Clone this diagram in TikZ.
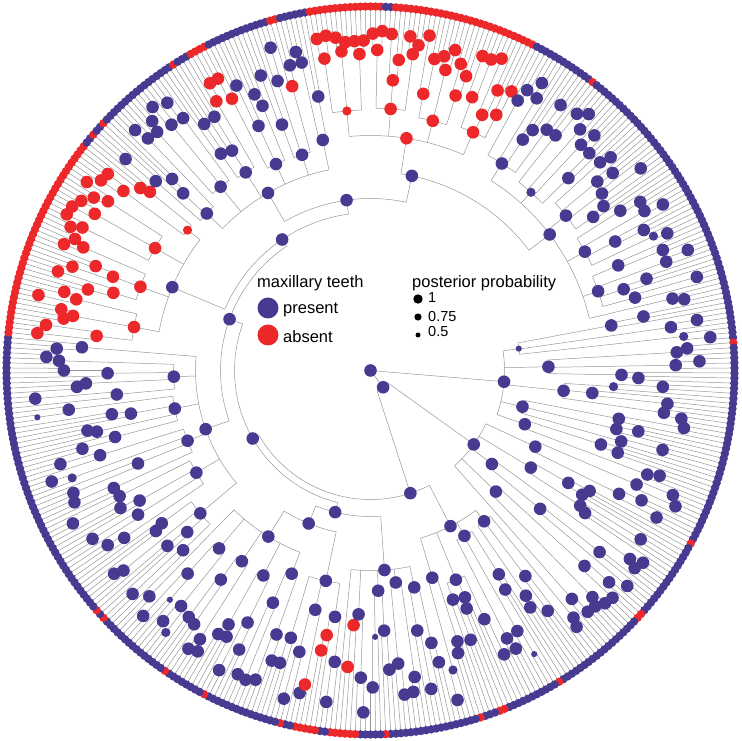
\documentclass[tikz,border=0pt]{standalone}
\usepackage{fontspec}
\setmainfont{Liberation Sans}
\definecolor{teethblue}{RGB}{70,58,145}
\definecolor{teethred}{RGB}{237,40,43}
\definecolor{branchgrey}{RGB}{150,150,150}
\tikzset{
  branch/.style={draw=branchgrey, line width=0.5pt},
  present/.style={fill=teethblue},
  absent/.style={fill=teethred},
  keytext/.style={anchor=base west, inner sep=0pt, font=\fontsize{16.5}{19}\selectfont},
  probtext/.style={anchor=base west, inner sep=0pt, font=\fontsize{14.5}{17}\selectfont},
}
\newif\ifdotpass
% angle of tip j on the ring
\pgfmathdeclarefunction{tipang}{1}{\pgfmathparse{11.6-0.8*#1}}
% 1 when tip j has no maxillary teeth
\pgfmathdeclarefunction{redtip}{1}{\pgfmathparse{int((#1==9)+(#1==50)+(#1>=67)*(#1<=68)+(#1==88)+(#1>=100)*(#1<=101)+(#1==105)+(#1==124)+(#1>=130)*(#1<=135)+(#1>=138)*(#1<=142)+(#1==145)+(#1==161)+(#1==170)+(#1==186)+(#1==188)+(#1>=247)*(#1<=287)+(#1==290)+(#1==293)+(#1==311)+(#1>=315)*(#1<=318)+(#1>=332)*(#1<=333)+(#1>=340)*(#1<=354)+(#1>=357)*(#1<=385)+(#1==399)>0)}}
\newcommand\tipR{364}
% radial branch: angle, inner radius, outer radius
\newcommand\radial[3]{\ifdotpass\else\draw[branch] (#1:#2) -- (#1:#3);\fi}
% arc branch: radius, from angle, to angle
\newcommand\arcat[3]{\ifdotpass\else\draw[branch] (#2:#1) arc[start angle=#2, end angle=#3, radius=#1];\fi}
% state at a node: angle, radius, 1 = absent
\newcommand\statedot[3]{%
  \pgfmathsetmacro\dotp{rnd}%
  \pgfmathsetmacro\dotr{\dotp<0.015 ? 3.1 : (\dotp<0.035 ? 4.6 : 6.3)}%
  \ifdotpass
    \ifnum#3=1 \fill[absent] (#1:#2) circle[radius=\dotr];%
    \else\fill[present] (#1:#2) circle[radius=\dotr];\fi
  \fi}
% two sister tips: first tip, radius, colour flag
\newcommand\cherry[3]{%
  \pgfmathsetmacro\cha{tipang(#1)}\pgfmathsetmacro\chb{tipang(#1+1)}%
  \pgfmathsetmacro\chm{tipang(#1+0.5)}%
  \pgfmathtruncatemacro\chc{#3>0 ? 1 : redtip(#1)*redtip(#1+1)}%
  \arcat{#2}{\cha}{\chb}\radial{\cha}{#2}{\tipR}\radial{\chb}{#2}{\tipR}%
  \statedot{\chm}{#2}{\chc}}
% one clade: first tip, last tip, parent radius, clade radius,
% lowest group radius, tips per group, groups per block,
% colour (0 by tips, 1 red inside, 2 all red)
\newcommand\clade[8]{%
  \pgfmathtruncatemacro\ngrp{ceil((#2-#1+1)/#6)}%
  \pgfmathtruncatemacro\nblk{ceil(\ngrp/#7)}%
  % small groups of tips
  \foreach \gi in {1,...,\ngrp}{%
    \pgfmathtruncatemacro\ga{#1+(\gi-1)*#6}%
    \pgfmathtruncatemacro\gb{min(\ga+#6-1,#2)}%
    \pgfmathtruncatemacro\gn{\gb-\ga+1}%
    \pgfmathsetmacro\rg{#5+rnd*(322-#5)}%
    \pgfmathsetmacro\rh{\rg+8+rnd*(342-\rg-8)}%
    \pgfmathsetmacro\rj{\rg+8+rnd*(342-\rg-8)}%
    \pgfmathsetmacro\flip{rnd}%
    \ifcase\gn\or
      \pgfmathsetmacro\gatt{\ga}%
      \pgfmathsetmacro\angA{tipang(\ga)}%
      \radial{\angA}{\rg}{\tipR}%
    \or
      \pgfmathsetmacro\gatt{\ga+0.5}%
      \cherry{\ga}{\rg}{#8}%
    \or
      \ifdim\flip pt<0.5pt
        \pgfmathsetmacro\gatt{\ga+0.75}%
        \pgfmathsetmacro\angA{tipang(\ga)}\pgfmathsetmacro\angB{tipang(\ga+1.5)}%
        \arcat{\rg}{\angA}{\angB}\radial{\angA}{\rg}{\tipR}\radial{\angB}{\rg}{\rh}%
        \cherry{\ga+1}{\rh}{#8}%
      \else
        \pgfmathsetmacro\gatt{\ga+1.25}%
        \pgfmathsetmacro\angA{tipang(\ga+0.5)}\pgfmathsetmacro\angB{tipang(\ga+2)}%
        \arcat{\rg}{\angA}{\angB}\radial{\angB}{\rg}{\tipR}\radial{\angA}{\rg}{\rh}%
        \cherry{\ga}{\rh}{#8}%
      \fi
    \or
      \pgfmathsetmacro\gatt{\ga+1.5}%
      \pgfmathsetmacro\angA{tipang(\ga+0.5)}\pgfmathsetmacro\angB{tipang(\ga+2.5)}%
      \arcat{\rg}{\angA}{\angB}\radial{\angA}{\rg}{\rh}\radial{\angB}{\rg}{\rj}%
      \cherry{\ga}{\rh}{#8}\cherry{\ga+2}{\rj}{#8}%
    \fi
    \ifnum\gn>2
      \pgfmathsetmacro\angG{tipang(\gatt)}%
      \pgfmathtruncatemacro\gcol{#8>0 ? 1 : (redtip(\ga)+redtip(\ga+1)+redtip(\gb)>1)}%
      \statedot{\angG}{\rg}{\gcol}%
    \fi
    \expandafter\xdef\csname gatt\gi\endcsname{\gatt}%
    \expandafter\xdef\csname grad\gi\endcsname{\rg}%
  }%
  % blocks of groups
  \foreach \bi in {1,...,\nblk}{%
    \pgfmathtruncatemacro\fa{(\bi-1)*#7+1}%
    \pgfmathtruncatemacro\fb{min(\fa+#7-1,\ngrp)}%
    \edef\baa{\csname gatt\fa\endcsname}%
    \edef\bab{\csname gatt\fb\endcsname}%
    \ifnum\fa=\fb
      \pgfmathsetmacro\angA{tipang(\baa)}%
      \edef\rgq{\csname grad\fa\endcsname}%
      \radial{\angA}{#4}{\rgq}%
      \expandafter\xdef\csname batt\bi\endcsname{\baa}%
    \else
      \pgfmathsetmacro\rs{#4+12+rnd*(#5-#4-22)}%
      \pgfmathsetmacro\angA{tipang(\baa)}\pgfmathsetmacro\angB{tipang(\bab)}%
      \arcat{\rs}{\angA}{\angB}%
      \foreach \mm in {\fa,...,\fb}{%
        \edef\amm{\csname gatt\mm\endcsname}\edef\rgq{\csname grad\mm\endcsname}%
        \pgfmathsetmacro\angM{tipang(\amm)}%
        \radial{\angM}{\rs}{\rgq}%
      }%
      \pgfmathsetmacro\bmid{(\baa+\bab)/2}%
      \pgfmathsetmacro\angM{tipang(\bmid)}%
      \radial{\angM}{#4}{\rs}%
      \pgfmathtruncatemacro\bcol{#8>0 ? 1 : 0}%
      \statedot{\angM}{\rs}{\bcol}%
      \expandafter\xdef\csname batt\bi\endcsname{\bmid}%
    \fi
  }%
  % clade node
  \edef\baa{\csname batt1\endcsname}\edef\bab{\csname batt\nblk\endcsname}%
  \pgfmathsetmacro\angA{tipang(\baa)}\pgfmathsetmacro\angB{tipang(\bab)}%
  \arcat{#4}{\angA}{\angB}%
  \pgfmathsetmacro\angC{tipang((#1+#2)/2)}%
  \radial{\angC}{#3}{#4}%
  \pgfmathtruncatemacro\bcol{#8>1 ? 1 : 0}%
  \statedot{\angC}{#4}{\bcol}%
}
% all clades, clockwise from the right
\newcommand\alltree{%
  \pgfmathsetseed{2718}%
  \clade{0}{41}{0}{134}{215}{3}{3}{0}%
  \clade{42}{76}{21}{127}{200}{4}{2}{0}%
  \clade{77}{109}{129}{175}{240}{3}{3}{0}%
  \clade{110}{134}{146}{200}{255}{3}{2}{0}%
  \clade{135}{149}{165}{215}{265}{3}{2}{0}%
  \clade{150}{183}{165}{195}{250}{4}{2}{0}%
  \clade{184}{246}{150}{175}{240}{3}{4}{0}%
  \clade{247}{289}{158}{215}{260}{4}{3}{1}%
  \clade{290}{339}{172}{205}{255}{3}{3}{0}%
  \clade{340}{386}{199}{235}{275}{4}{3}{2}%
  \clade{387}{449}{199}{225}{265}{3}{4}{0}%
}

\begin{document}
\begin{tikzpicture}[x=1pt,y=1pt]
\useasboundingbox (-370.5,-370.5) rectangle (370.5,370.5);
% branches first
\dotpassfalse
\alltree
% backbone
\radial{-53}{0}{21}
\arcat{21}{-35.6}{-72}
\radial{-72}{21}{129}
\arcat{129}{-62.8}{-150}
\radial{-150}{129}{136}
\arcat{136}{-104}{-200}
\radial{-104}{136}{146}
\radial{-200}{136}{150}
\arcat{146}{-86}{-112}
\radial{-112}{146}{165}
\arcat{165}{-102}{-121.6}
\arcat{150}{-160.4}{-236}
\radial{-236}{150}{158}
\arcat{158}{-202.8}{-262}
\radial{-262}{158}{172}
\arcat{172}{-240}{-282}
\radial{-282}{172}{199}
\arcat{199}{-278.8}{-322.8}
% then the states on top
\dotpasstrue
\alltree
\foreach \a/\r in {0/0,-53/21,-72/129,-150/136,-104/146,-112/165,-200/150,-236/158,-262/172,-282/199}
  \fill[present] (\a:\r) circle[radius=6.3];
% tips
\foreach \j in {0,...,449}{%
  \pgfmathsetmacro\angT{tipang(\j)}%
  \pgfmathtruncatemacro\tipc{redtip(\j)}%
  \ifnum\tipc=1 \fill[absent] (\angT:\tipR) circle[radius=4.2];%
  \else\fill[present] (\angT:\tipR) circle[radius=4.2];\fi}
% legend
\node[keytext] (keyhead) at (-113.5,82.5) {maxillary teeth};
\fill[present] (-102.5,62.5) circle[radius=10.5];
\node[keytext] (keypresent) at (-87.5,56.5) {present};
\fill[absent] (-102.5,35.5) circle[radius=10.5];
\node[keytext] (keyabsent) at (-87.5,27.5) {absent};
\node[keytext] (probhead) at (41.5,82.5) {posterior probability};
\fill (47.5,71.5) circle[radius=4.7];
\node[probtext] (probone) at (57.5,67.5) {1};
\fill (47.5,53.5) circle[radius=3.6];
\node[probtext] (probmid) at (57.5,48.5) {0.75};
\fill (47.5,35.5) circle[radius=2.5];
\node[probtext] (problow) at (57.5,33.5) {0.5};
\end{tikzpicture}
\end{document}
